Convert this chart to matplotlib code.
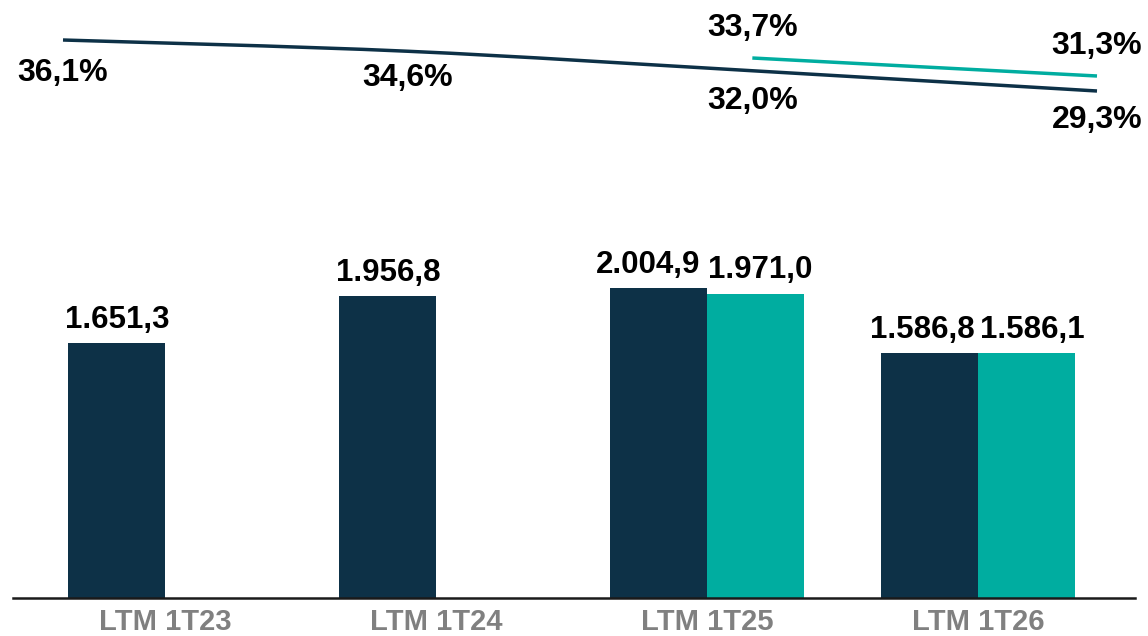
import matplotlib.pyplot as plt
import numpy as np
from matplotlib.path import Path
from matplotlib.patches import PathPatch

plt.rcParams['font.family'] = ['Liberation Sans', 'DejaVu Sans']

categories = ["LTM 1T23", "LTM 1T24", "LTM 1T25", "LTM 1T26"]
values_main = [1651.3, 1956.8, 2004.9, 1586.8]
values_adj = [None, None, 1971.0, 1586.1]
margin_main = [36.1, 34.6, 32.0, 29.3]
margin_adj = [None, None, 33.7, 31.3]

DARK = "#0D3147"
TEAL = "#00ADA0"


def fmt_num(v):
    s = f"{v:,.1f}"
    return s.replace(",", "X").replace(".", ",").replace("X", ".")


def fmt_pct(v):
    return f"{v:.1f}%".replace(".", ",")


def smooth_path(xs, ys):
    # Catmull-Rom -> cubic bezier segments, like a smoothed office line
    pts = np.column_stack([xs, ys]).astype(float)
    verts = [pts[0]]
    codes = [Path.MOVETO]
    n = len(pts)
    for i in range(n - 1):
        p0 = pts[max(i - 1, 0)]
        p1 = pts[i]
        p2 = pts[i + 1]
        p3 = pts[min(i + 2, n - 1)]
        c1 = p1 + (p2 - p0) / 6.0
        c2 = p2 - (p3 - p1) / 6.0
        verts += [c1, c2, p2]
        codes += [Path.CURVE4] * 3
    return Path(verts, codes)


W, H = 1148, 636
PT = 72 / 100  # px -> pt at dpi 100
fig = plt.figure(figsize=(W / 100, H / 100), dpi=100)

# bar axes
ymax = 2200
px_per_unit = 0.1544
ax = fig.add_axes([13 / W, 38 / H, 1122 / W, ymax * px_per_unit / H])
x = np.arange(len(categories))
bw = 0.358
has_adj = [v is not None for v in values_adj]
# small horizontal nudges (px) so neighbouring labels don't collide
nudge_main = [0, 0, -11, -7]
nudge_adj = [0, 0, 4, 5]
for i, cat in enumerate(categories):
    ax.bar(x[i] - bw / 2, values_main[i], width=bw, color=DARK, zorder=2)
    ax.annotate(fmt_num(values_main[i]), (x[i] - bw / 2, values_main[i]),
                xytext=(nudge_main[i] * PT, 6), textcoords="offset points",
                ha="center", va="bottom", fontsize=22.5, fontweight="bold",
                color="black")
    if has_adj[i]:
        ax.bar(x[i] + bw / 2, values_adj[i], width=bw, color=TEAL, zorder=2)
        ax.annotate(fmt_num(values_adj[i]), (x[i] + bw / 2, values_adj[i]),
                    xytext=(nudge_adj[i] * PT, 6), textcoords="offset points",
                    ha="center", va="bottom", fontsize=22.5, fontweight="bold",
                    color="black")

ax.set_xlim(-0.562, 3.578)
ax.set_ylim(0, ymax)
ax.set_xticks(x)
ax.set_xticklabels(categories, fontsize=21, fontweight="bold", color="#808080")
ax.tick_params(axis="x", length=0, pad=7)
ax.set_yticks([])
for side in ["top", "right", "left"]:
    ax.spines[side].set_visible(False)
ax.spines["bottom"].set_color("#1a1a1a")
ax.spines["bottom"].set_linewidth(1.8)
ax.patch.set_alpha(0)

# margin line axes (full figure overlay)
lx = fig.add_axes([0, 0, 1, 1])
lx.patch.set_alpha(0)
lx.axis("off")
sp = 344.67
lx.set_xlim(-63 / sp, 3 + (W - 1097) / sp)
lx.set_ylim(36.1 - 596 / 7.5, 36.1 + 40 / 7.5)

lx.add_patch(PathPatch(smooth_path(x, margin_main), fill=False,
                       edgecolor=DARK, lw=2.5, capstyle="butt"))
adj_idx = [i for i, v in enumerate(margin_adj) if v is not None]
lx.add_patch(PathPatch(smooth_path([x[i] for i in adj_idx],
                                   [margin_adj[i] for i in adj_idx]),
                       fill=False, edgecolor=TEAL, lw=2.5, capstyle="butt"))

main_off = [-33, -27, -30, -29]
for i, v in enumerate(margin_main):
    lx.annotate(fmt_pct(v), (x[i], v), xytext=(0, main_off[i] * PT),
                textcoords="offset points", ha="center", va="center",
                fontsize=23, fontweight="bold", color="black")
for i in adj_idx:
    lx.annotate(fmt_pct(margin_adj[i]), (x[i], margin_adj[i]),
                xytext=(0, 30 * PT), textcoords="offset points",
                ha="center", va="center", fontsize=23, fontweight="bold",
                color="black")

fig.savefig("out.png", dpi=100)
